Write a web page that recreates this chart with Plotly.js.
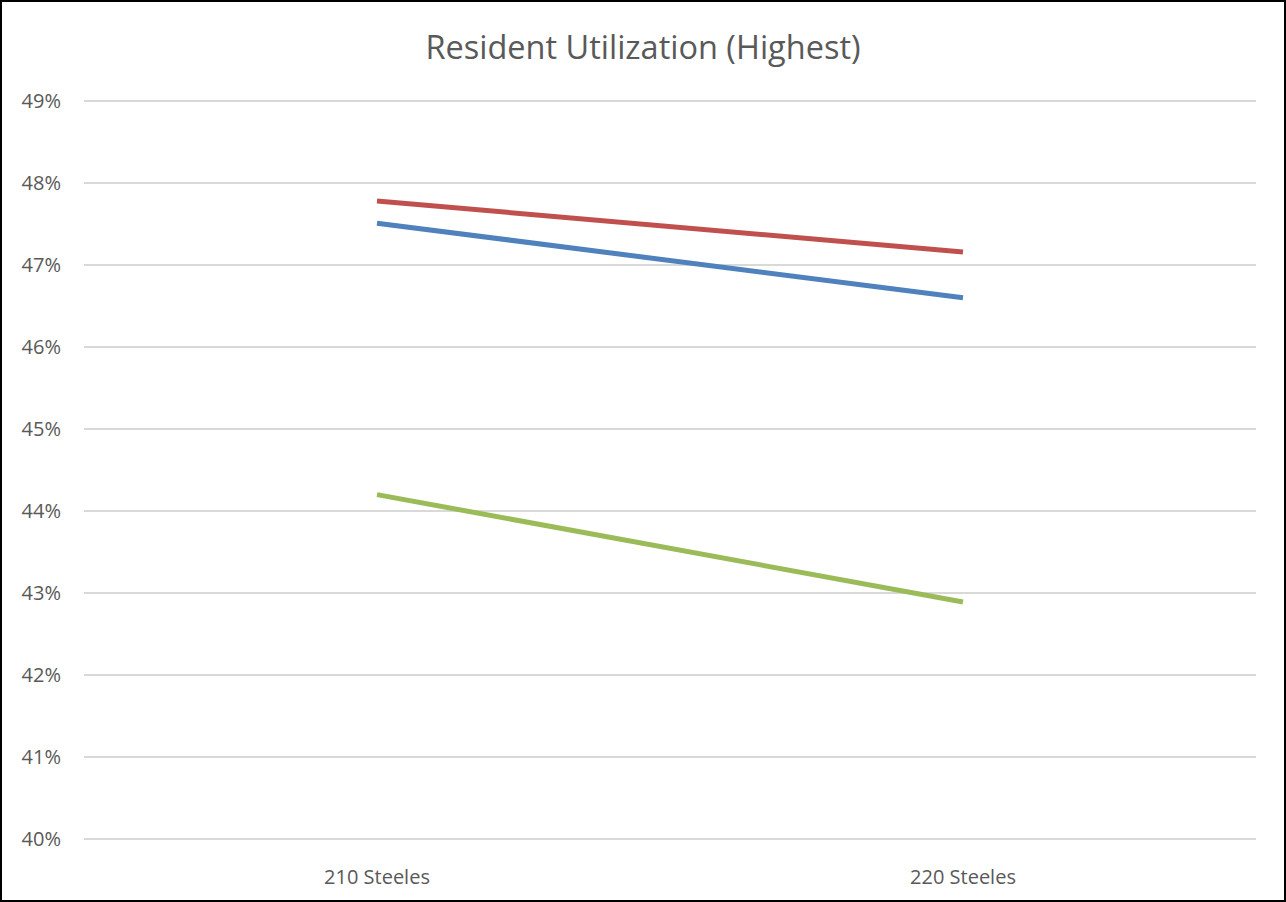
<!DOCTYPE html>
<html>
<head>
<meta charset="utf-8">
<script src="https://cdn.plot.ly/plotly-3.0.1.min.js"></script>
<style>
html,body{margin:0;padding:0;background:#fff;}
#wrap{width:1286px;height:902px;box-sizing:border-box;border:2px solid #000;overflow:hidden;}
#chart{width:1282px;height:898px;}
</style>
</head>
<body>
<div id="wrap"><div id="chart"></div></div>
<script>
const categories = ["210 Steeles", "220 Steeles"];
const seriesRed = [0.4778, 0.4716];
const seriesBlue = [0.4751, 0.4660];
const seriesGreen = [0.4420, 0.4289];
const yTicks = [0.40, 0.41, 0.42, 0.43, 0.44, 0.45, 0.46, 0.47, 0.48, 0.49];
const yTickText = ["40%", "41%", "42%", "43%", "44%", "45%", "46%", "47%", "48%", "49%"];

function line(y, color) {
  return {x: categories, y: y, type: 'scatter', mode: 'lines',
    line: {color: color, width: 5}, hoverinfo: 'skip', showlegend: false};
}
const data = [line(seriesGreen, '#9BBB59'), line(seriesBlue, '#4F81BD'), line(seriesRed, '#C0504D')];
const layout = {
  width: 1282, height: 898,
  margin: {l: 82, r: 28, t: 96, b: 58},
  paper_bgcolor: '#fff', plot_bgcolor: '#fff',
  title: {text: 'Resident Utilization (Highest)', x: 0.5, xanchor: 'center', y: 0.949, yanchor: 'middle',
    font: {family: 'Open Sans', size: 32.5, color: '#595959'}},
  font: {family: 'Open Sans', color: '#595959'},
  xaxis: {type: 'category', range: [-0.5, 1.5], showgrid: false, zeroline: false,
    showline: false, ticks: '', tickfont: {size: 20, color: '#595959'}, ticklabelstandoff: 21},
  yaxis: {range: [0.39963, 0.49037], tickvals: yTicks, ticktext: yTickText, showgrid: true,
    gridcolor: '#D9D9D9', gridwidth: 1.5, zeroline: false, showline: false, ticks: '',
    tickfont: {size: 20, color: '#595959'}, ticklabelstandoff: 22}
};
Plotly.newPlot('chart', data, layout, {displayModeBar: false, staticPlot: true});
</script>
</body>
</html>
